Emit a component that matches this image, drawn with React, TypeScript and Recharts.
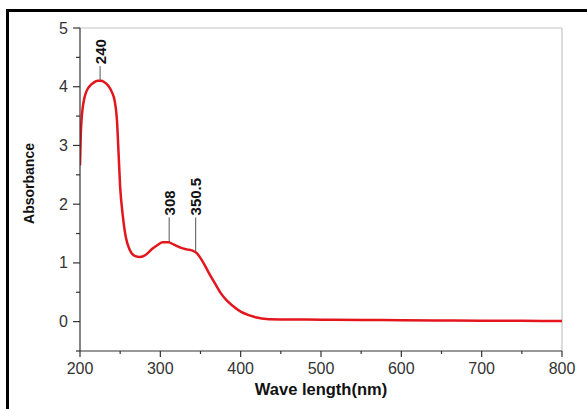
import React from "react";
import {
  ComposedChart,
  Line,
  Scatter,
  XAxis,
  YAxis,
  ReferenceLine,
  Label,
} from "recharts";

// UV-Vis spectrum
const wavelengths = [
  200, 201, 202, 203, 205, 208, 212, 217, 222, 226, 230, 235, 240, 243, 246,
  248, 250, 253, 257, 262, 268, 275, 282, 290, 297, 303, 310, 317, 325, 333,
  340, 345, 352, 360, 368, 375, 382, 390, 400, 410, 420, 432, 450, 500, 550,
  600, 650, 700, 750, 800,
];
const absorbance = [
  2.66, 3.2, 3.45, 3.6, 3.78, 3.92, 4.01, 4.07, 4.1, 4.1, 4.08, 4.02, 3.9,
  3.77, 3.43, 2.87, 2.29, 1.84, 1.44, 1.22, 1.12, 1.1, 1.14, 1.24, 1.31, 1.35,
  1.35, 1.31, 1.26, 1.23, 1.21, 1.17, 1.04, 0.84, 0.65, 0.49, 0.37, 0.27, 0.17,
  0.11, 0.07, 0.045, 0.038, 0.033, 0.028, 0.024, 0.02, 0.016, 0.013, 0.01,
];

// peak annotations
const peakLabels = ["240", "308", "350.5"];
const peakNm = [225, 311, 344];
const peakAbs = [4.1, 1.35, 1.17];
const peakLabelAbs = [4.35, 1.775, 1.775];

const xTicks = [200, 250, 300, 350, 400, 450, 500, 550, 600, 650, 700, 750, 800];
const yTicks = [-0.5, 0, 0.5, 1, 1.5, 2, 2.5, 3, 3.5, 4, 4.5, 5];

const curve = wavelengths.map((nm, i) => ({ nm, abs: absorbance[i] }));
const peakTops = peakLabels.map((label, i) => ({
  nm: peakNm[i],
  abs: peakLabelAbs[i],
  label,
}));

const FONT = "'Liberation Sans', Arial, Helvetica, sans-serif";
const AXIS = "#333333";

function XTick(props: any) {
  const { x, y, payload } = props;
  const major = payload.value % 100 === 0;
  return (
    <g>
      <line x1={x} x2={x} y1={y} y2={y + (major ? 6 : 3)} stroke={AXIS} strokeWidth={1.2} />
      {major && (
        <text x={x} y={y + 17} textAnchor="middle" dominantBaseline="central"
          fontSize={16} fontFamily={FONT} fill="#333">
          {payload.value}
        </text>
      )}
    </g>
  );
}

function YTick(props: any) {
  const { x, y, payload } = props;
  const v = payload.value;
  const major = Number.isInteger(v);
  return (
    <g>
      <line x1={x - (major ? 7 : 4)} x2={x} y1={y} y2={y} stroke={AXIS} strokeWidth={1.2} />
      {major && (
        <text x={x - 12} y={y} textAnchor="end" dominantBaseline="central"
          fontSize={16} fontFamily={FONT} fill="#333">
          {v}
        </text>
      )}
    </g>
  );
}

function PeakText(props: any) {
  const { cx, cy, payload } = props;
  return (
    <text x={cx} y={cy - 2} transform={`rotate(-90, ${cx}, ${cy - 2})`}
      textAnchor="start" dominantBaseline="central"
      fontSize={15} fontWeight="bold" fontFamily={FONT} fill="#111">
      {payload.label}
    </text>
  );
}

export default function App() {
  return (
    <div style={{ position: "absolute", left: 0, top: 0, width: 587, height: 409, background: "#fff" }}>
      <div style={{
        position: "absolute", left: 6, top: 9, width: 581, height: 400,
        boxSizing: "border-box", borderTop: "3px solid #000", borderLeft: "3px solid #000",
      }} />
      <div style={{ position: "absolute", left: 0, top: 0 }}>
        <ComposedChart width={587} height={409} data={curve}
          margin={{ top: 28, right: 25, left: 20, bottom: 13 }}>
          <XAxis dataKey="nm" type="number" domain={[200, 800]} ticks={xTicks}
            interval={0} allowDataOverflow height={45} tickSize={0} tickMargin={0}
            tickLine={false} axisLine={{ stroke: AXIS, strokeWidth: 1.2 }} tick={<XTick />}>
            <Label content={({ viewBox }: any) => (
              <text x={viewBox.x + viewBox.width / 2} y={viewBox.y + 44}
                textAnchor="middle" fontSize={16.5} fontWeight="bold" fontFamily={FONT} fill="#111">
                Wave length(nm)
              </text>
            )} />
          </XAxis>
          <YAxis dataKey="abs" type="number" domain={[-0.5, 5]} ticks={yTicks}
            interval={0} allowDataOverflow width={60} tickSize={0} tickMargin={0}
            tickLine={false} axisLine={{ stroke: AXIS, strokeWidth: 1.2 }} tick={<YTick />}>
            <Label content={({ viewBox }: any) => {
              const cx = viewBox.x + 9;
              const cy = viewBox.y + viewBox.height / 2 - 6;
              return (
                <text x={cx} y={cy} transform={`rotate(-90, ${cx}, ${cy})`}
                  textAnchor="middle" dominantBaseline="central"
                  fontSize={14} fontWeight="bold" fontFamily={FONT} fill="#111">
                  Absorbance
                </text>
              );
            }} />
          </YAxis>
          <ReferenceLine y={5} stroke="#c4c4c4" strokeWidth={1.2} />
          <ReferenceLine x={800} stroke="#c4c4c4" strokeWidth={1.2} />
          {peakLabels.map((l, i) => (
            <ReferenceLine key={l}
              segment={[{ x: peakNm[i], y: peakAbs[i] }, { x: peakNm[i], y: peakLabelAbs[i] }]}
              stroke="#555" strokeWidth={1} />
          ))}
          <Line type="monotone" dataKey="abs" stroke="#e3161e" strokeWidth={2.5}
            dot={false} activeDot={false} isAnimationActive={false} />
          <Scatter data={peakTops} shape={<PeakText />} isAnimationActive={false} />
        </ComposedChart>
      </div>
    </div>
  );
}
